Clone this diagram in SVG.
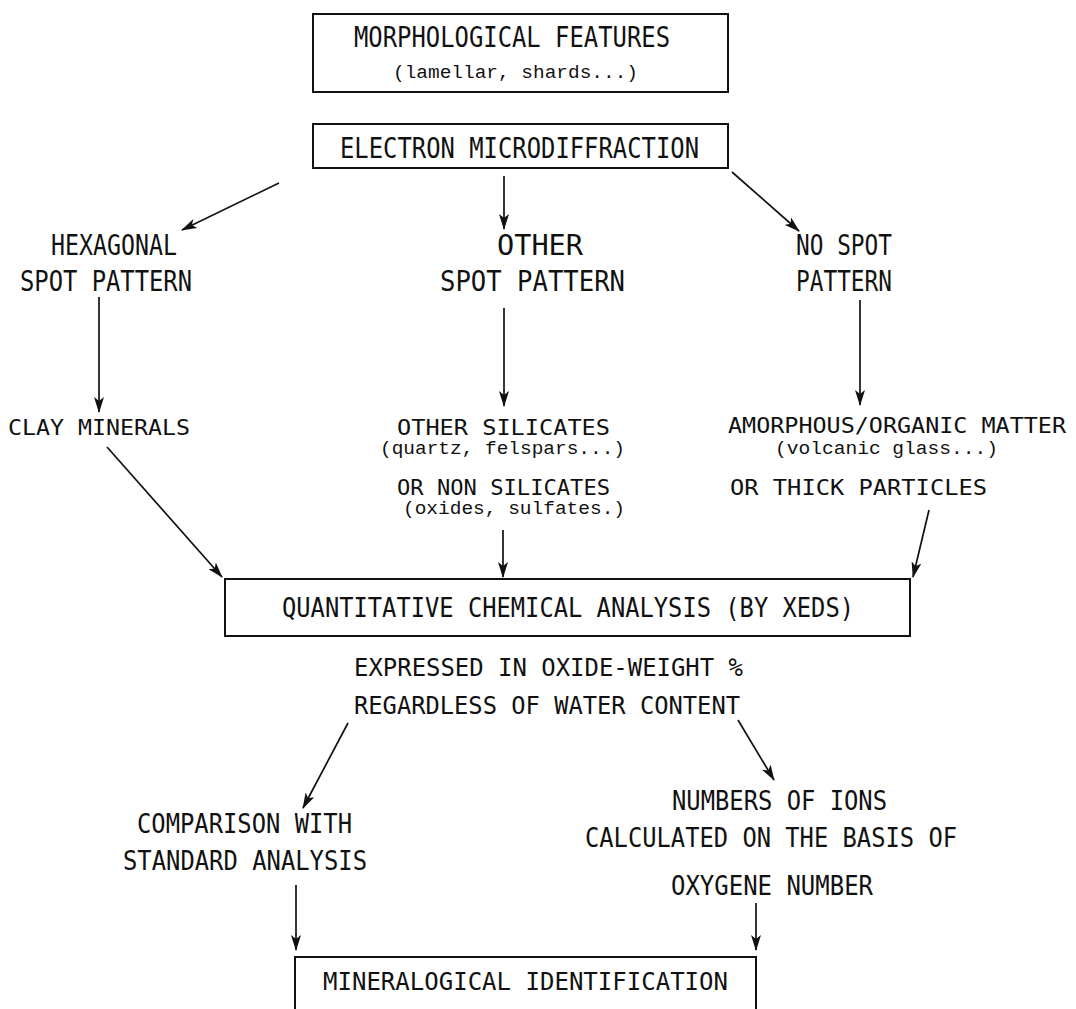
<svg xmlns="http://www.w3.org/2000/svg" width="1076" height="1009" viewBox="0 0 1076 1009">
<style>
  .box { fill: none; stroke: #111; stroke-width: 2; }
  .ln { fill: none; stroke: #111; stroke-width: 1.7; marker-end: url(#ah); }
  text { fill: #111; }
  .t1 { font-family: "DejaVu Sans Mono", "Liberation Mono", monospace; font-size: 29px; }
  .t2 { font-family: "DejaVu Sans Mono", "Liberation Mono", monospace; font-size: 27px; }
  .t3 { font-family: "DejaVu Sans Mono", "Liberation Mono", monospace; font-size: 22px; }
  .t4 { font-family: "DejaVu Sans Mono", "Liberation Mono", monospace; font-size: 25px; }
  .s { font-family: "Liberation Mono", "Courier New", monospace; font-size: 19px; }
</style>
<defs>
  <marker id="ah" viewBox="0 0 16 10" refX="15" refY="5" markerWidth="16" markerHeight="10" markerUnits="userSpaceOnUse" orient="auto">
    <path d="M0,0 L16,5 L0,10 L4,5 z" fill="#111"/>
  </marker>
</defs>

<g id="n-morph">
  <rect class="box" x="313" y="14" width="415" height="78"/>
  <text class="t1" x="354" y="47" textLength="316" lengthAdjust="spacingAndGlyphs">MORPHOLOGICAL FEATURES</text>
  <text class="s" x="393" y="78" textLength="245" lengthAdjust="spacingAndGlyphs">(lamellar, shards...)</text>
</g>
<g id="n-emd">
  <rect class="box" x="313" y="124" width="415" height="44"/>
  <text class="t1" x="340" y="158" textLength="359" lengthAdjust="spacingAndGlyphs">ELECTRON MICRODIFFRACTION</text>
</g>
<g id="n-hex">
  <text class="t1" x="51" y="255" textLength="126" lengthAdjust="spacingAndGlyphs">HEXAGONAL</text>
  <text class="t1" x="20" y="291" textLength="172" lengthAdjust="spacingAndGlyphs">SPOT PATTERN</text>
</g>
<g id="n-other">
  <text class="t1" x="497" y="255" textLength="86" lengthAdjust="spacingAndGlyphs">OTHER</text>
  <text class="t1" x="440" y="291" textLength="185" lengthAdjust="spacingAndGlyphs">SPOT PATTERN</text>
</g>
<g id="n-nospot">
  <text class="t1" x="796" y="255" textLength="96" lengthAdjust="spacingAndGlyphs">NO SPOT</text>
  <text class="t1" x="796" y="291" textLength="96" lengthAdjust="spacingAndGlyphs">PATTERN</text>
</g>
<g id="n-clay">
  <text class="t3" x="8" y="435" textLength="182" lengthAdjust="spacingAndGlyphs">CLAY MINERALS</text>
</g>
<g id="n-silicates">
  <text class="t3" x="397" y="435" textLength="213" lengthAdjust="spacingAndGlyphs">OTHER SILICATES</text>
  <text class="s" x="380" y="454" textLength="245" lengthAdjust="spacingAndGlyphs">(quartz, felspars...)</text>
  <text class="t3" x="397" y="495" textLength="213" lengthAdjust="spacingAndGlyphs">OR NON SILICATES</text>
  <text class="s" x="403" y="514" textLength="222" lengthAdjust="spacingAndGlyphs">(oxides, sulfates.)</text>
</g>
<g id="n-amorph">
  <text class="t3" x="728" y="433" textLength="338" lengthAdjust="spacingAndGlyphs">AMORPHOUS/ORGANIC MATTER</text>
  <text class="s" x="775" y="454" textLength="223" lengthAdjust="spacingAndGlyphs">(volcanic glass...)</text>
  <text class="t3" x="730" y="495" textLength="257" lengthAdjust="spacingAndGlyphs">OR THICK PARTICLES</text>
</g>
<g id="n-qca">
  <rect class="box" x="225" y="579" width="685" height="57"/>
  <text class="t2" x="282" y="617" textLength="572" lengthAdjust="spacingAndGlyphs">QUANTITATIVE CHEMICAL ANALYSIS (BY XEDS)</text>
</g>
<g id="n-expr">
  <text class="t4" x="354" y="676" textLength="389" lengthAdjust="spacingAndGlyphs">EXPRESSED IN OXIDE-WEIGHT %</text>
  <text class="t4" x="354" y="714" textLength="386" lengthAdjust="spacingAndGlyphs">REGARDLESS OF WATER CONTENT</text>
</g>
<g id="n-comp">
  <text class="t2" x="137" y="833" textLength="215" lengthAdjust="spacingAndGlyphs">COMPARISON WITH</text>
  <text class="t2" x="123" y="870" textLength="244" lengthAdjust="spacingAndGlyphs">STANDARD ANALYSIS</text>
</g>
<g id="n-ions">
  <text class="t2" x="672" y="810" textLength="215" lengthAdjust="spacingAndGlyphs">NUMBERS OF IONS</text>
  <text class="t2" x="585" y="847" textLength="372" lengthAdjust="spacingAndGlyphs">CALCULATED ON THE BASIS OF</text>
  <text class="t2" x="671" y="895" textLength="202" lengthAdjust="spacingAndGlyphs">OXYGENE NUMBER</text>
</g>
<g id="n-mineral">
  <path class="box" d="M295,1009 V957 H756 V1009"/>
  <text class="t4" x="323" y="990" textLength="405" lengthAdjust="spacingAndGlyphs">MINERALOGICAL IDENTIFICATION</text>
</g>

<g id="connectors">
  <line class="ln" x1="279" y1="183" x2="182" y2="230"/>
  <line class="ln" x1="504" y1="176" x2="504" y2="229"/>
  <line class="ln" x1="732" y1="172" x2="799" y2="231"/>
  <line class="ln" x1="99" y1="297" x2="99" y2="412"/>
  <line class="ln" x1="504" y1="308" x2="504" y2="406"/>
  <line class="ln" x1="860" y1="300" x2="860" y2="405"/>
  <line class="ln" x1="107" y1="447" x2="222" y2="577"/>
  <line class="ln" x1="503" y1="530" x2="503" y2="577"/>
  <line class="ln" x1="929" y1="510" x2="913" y2="577"/>
  <line class="ln" x1="348" y1="723" x2="303" y2="808"/>
  <line class="ln" x1="738" y1="720" x2="774" y2="780"/>
  <line class="ln" x1="296" y1="885" x2="296" y2="950"/>
  <line class="ln" x1="756" y1="903" x2="756" y2="950"/>
</g>
</svg>
